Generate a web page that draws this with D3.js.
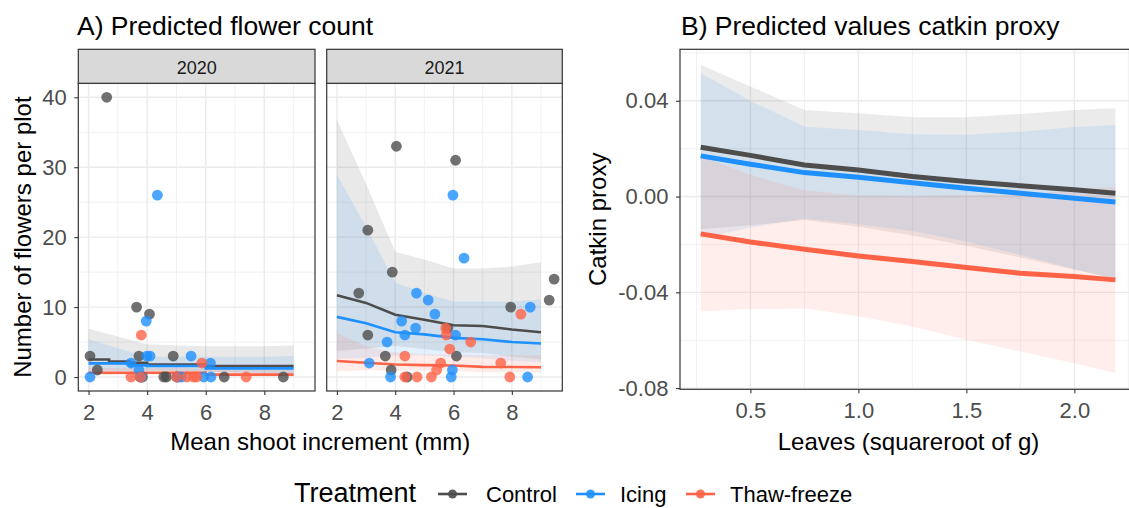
<!DOCTYPE html>
<meta charset="utf-8">
<title>Predicted flower count and catkin proxy</title>
<style>

body {
  margin: 0;
  background: #fff;
}

text {
  font-family: "Liberation Sans", Arial, sans-serif;
}

</style>
<body>
  <script src="https://d3js.org/d3.v7.min.js"></script>
  <script>

  // ---- data: panel A, points (x = mean shoot increment, y = flowers per plot) ----
  const years = ["2020", "2021"];
  const treatments = ["Control", "Icing", "Thaw-freeze"];
  const colors = ["#4D4D4D", "#1E90FF", "#FF6347"];

  const pts2020ControlX = [2.62, 3.64, 4.08, 2.05, 2.3, 3.72, 4.89, 3.76, 3.84, 4.57, 4.66, 5.02, 6.63, 8.65];
  const pts2020ControlY = [40, 10, 9, 3, 1, 3, 3, 0, 0, 0, 0, 0, 0, 0];
  const pts2020IcingX = [4.35, 3.97, 2.05, 3.45, 3.99, 4.1, 5.5, 6.16, 3.72, 3.8, 5.06, 5.93, 6.18, 5.18];
  const pts2020IcingY = [26, 8, 0, 2, 3, 3, 3, 2, 1, 0, 0, 0, 0, 0];
  const pts2020ThawX = [3.8, 3.45, 3.78, 5.0, 5.35, 5.58, 5.69, 5.87, 7.38];
  const pts2020ThawY = [6, 0, 0, 0, 0, 0, 0, 2, 0];

  const pts2021ControlX = [4.04, 6.07, 3.06, 3.9, 2.75, 9.45, 9.28, 7.96, 3.06, 5.8, 3.66, 6.1, 3.86, 4.41];
  const pts2021ControlY = [33, 31, 21, 15, 12, 14, 11, 10, 6, 7, 3, 3, 1, 0];
  const pts2021IcingX = [5.98, 6.36, 4.73, 5.13, 5.36, 8.63, 4.22, 4.7, 4.33, 6.07, 3.72, 3.11, 5.96, 3.84, 5.92, 8.54];
  const pts2021IcingY = [26, 17, 12, 11, 9, 10, 8, 7, 6, 6, 5, 2, 1, 0, 0, 0];
  const pts2021ThawX = [8.31, 6.59, 5.73, 5.75, 5.87, 4.33, 5.56, 5.42, 7.62, 4.33, 4.75, 5.24, 7.93];
  const pts2021ThawY = [9, 5, 7, 6, 4, 3, 2, 1, 2, 0, 0, 0, 0];

  // ---- data: panel A, predictions ----
  const fit2020X = [2, 2.7, 3.4, 4, 6, 9];           // step line
  const fit2020Control = [2.5, 2.2, 2.05, 1.8, 1.57, 1.57];
  const fit2020Icing = [1.95, 1.95, 1.67, 1.57, 1.24, 1.24];
  const fit2020Thaw = [0.62, 0.62, 0.62, 0.62, 0.34, 0.34];

  const band2020X = [2, 3, 4, 5, 6, 7, 8, 9];
  const band2020ControlHi = [6.9, 5.8, 4.7, 4.5, 4.4, 4.4, 4.4, 4.5];
  const band2020ControlLo = [0.9, 0.9, 0.85, 0.75, 0.7, 0.6, 0.55, 0.5];
  const band2020IcingHi = [5.4, 4.1, 2.9, 2.9, 2.9, 2.9, 2.9, 3.0];
  const band2020IcingLo = [0.7, 0.8, 0.95, 0.9, 0.8, 0.65, 0.6, 0.5];
  const band2020ThawHi = [1.3, 1.3, 1.3, 1.3, 1.2, 1.0, 1.0, 1.0];
  const band2020ThawLo = [0.3, 0.3, 0.28, 0.28, 0.25, 0.13, 0.12, 0.12];

  const fit2021X = [2, 3, 4, 5, 6, 7, 8, 9];
  const fit2021Control = [11.7, 10.6, 8.9, 8.2, 7.4, 7.3, 6.8, 6.4];
  const fit2021Icing = [8.6, 7.7, 6.4, 6.1, 5.6, 5.4, 5.0, 4.8];
  const fit2021Thaw = [2.3, 2.05, 1.8, 1.7, 1.65, 1.45, 1.43, 1.4];
  const band2021ControlHi = [36.8, 27.6, 17.9, 16.8, 15.5, 15.5, 15.8, 16.4];
  const band2021ControlLo = [3.72, 4.07, 4.42, 4.0, 3.53, 3.44, 2.93, 2.5];
  const band2021IcingHi = [28.9, 21.5, 13.5, 12.0, 10.8, 10.8, 10.8, 11.1];
  const band2021IcingLo = [2.56, 2.76, 3.03, 3.1, 2.9, 2.7, 2.31, 2.08];
  const band2021ThawHi = [6.3, 4.4, 3.5, 3.3, 3.2, 3.1, 3.1, 3.1];
  const band2021ThawLo = [0.84, 0.96, 0.93, 0.88, 0.85, 0.68, 0.66, 0.63];

  // ---- data: panel B, catkin proxy vs leaves ----
  const leavesX = [0.27, 0.5, 0.75, 1.0, 1.25, 1.5, 1.75, 2.0, 2.19];
  const catkinControl = [0.0206, 0.0172, 0.0132, 0.0111, 0.0084, 0.0063, 0.0045, 0.0028, 0.0014];
  const catkinControlHi = [0.0549, 0.046, 0.0362, 0.0348, 0.0331, 0.0331, 0.0345, 0.0362, 0.0369];
  const catkinControlLo = [-0.0137, -0.012, -0.0098, -0.0126, -0.0163, -0.0205, -0.0255, -0.0306, -0.0341];
  const catkinIcing = [0.017, 0.0135, 0.01, 0.0081, 0.0058, 0.0035, 0.0014, -0.0007, -0.0023];
  const catkinIcingHi = [0.0515, 0.04, 0.0292, 0.0278, 0.026, 0.0258, 0.0271, 0.029, 0.0299];
  const catkinIcingLo = [-0.0175, -0.013, -0.0092, -0.0116, -0.0144, -0.0188, -0.0243, -0.0304, -0.0345];
  const catkinThaw = [-0.0156, -0.019, -0.022, -0.0248, -0.0271, -0.0296, -0.032, -0.0334, -0.0348];
  const catkinThawHi = [0.0168, 0.009, 0.0026, 0.0004, 0.0001, 0.0006, 0.0007, 0.0028, 0.0041];
  const catkinThawLo = [-0.048, -0.047, -0.0466, -0.05, -0.0543, -0.0598, -0.0647, -0.0696, -0.0737];

  const aYTicks = [0, 10, 20, 30, 40];
  const aXTicks = [2, 4, 6, 8];
  const bYTicks = [-0.08, -0.04, 0, 0.04];
  const bXTicks = [0.5, 1.0, 1.5, 2.0];

  // ---- tables built from the arrays ----
  const zip = (xs, ys) => xs.map((x, i) => ({x: x, y: ys[i]}));
  const zipBand = (xs, lo, hi) => xs.map((x, i) => ({x: x, lo: lo[i], hi: hi[i]}));

  const facets = [
    {
      year: years[0], x0: 78.3, x1: 315, step: true,
      points: [zip(pts2020ControlX, pts2020ControlY), zip(pts2020IcingX, pts2020IcingY), zip(pts2020ThawX, pts2020ThawY)],
      fits: [zip(fit2020X, fit2020Control), zip(fit2020X, fit2020Icing), zip(fit2020X, fit2020Thaw)],
      bands: [zipBand(band2020X, band2020ControlLo, band2020ControlHi), zipBand(band2020X, band2020IcingLo, band2020IcingHi), zipBand(band2020X, band2020ThawLo, band2020ThawHi)]
    },
    {
      year: years[1], x0: 326.7, x1: 562.3, step: false,
      points: [zip(pts2021ControlX, pts2021ControlY), zip(pts2021IcingX, pts2021IcingY), zip(pts2021ThawX, pts2021ThawY)],
      fits: [zip(fit2021X, fit2021Control), zip(fit2021X, fit2021Icing), zip(fit2021X, fit2021Thaw)],
      bands: [zipBand(fit2021X, band2021ControlLo, band2021ControlHi), zipBand(fit2021X, band2021IcingLo, band2021IcingHi), zipBand(fit2021X, band2021ThawLo, band2021ThawHi)]
    }
  ];

  const svg = d3.select("body").append("svg")
      .attr("width", 1129)
      .attr("height", 508);

  const fontTick = 22, fontAxisTitle = 24, fontTitle = 26.5;

  // gridlines for one panel
  const drawGrid = (g, x, y, xMajor, xMinor, yMajor, yMinor, x0, x1, y0, y1) => {
    g.selectAll(".minx").data(xMinor).enter().append("line")
        .attr("x1", x).attr("x2", x).attr("y1", y0).attr("y2", y1)
        .attr("stroke", "#EBEBEB").attr("stroke-width", 0.7);
    g.selectAll(".miny").data(yMinor).enter().append("line")
        .attr("y1", y).attr("y2", y).attr("x1", x0).attr("x2", x1)
        .attr("stroke", "#EBEBEB").attr("stroke-width", 0.7);
    g.selectAll(".majx").data(xMajor).enter().append("line")
        .attr("x1", x).attr("x2", x).attr("y1", y0).attr("y2", y1)
        .attr("stroke", "#EBEBEB").attr("stroke-width", 1.4);
    g.selectAll(".majy").data(yMajor).enter().append("line")
        .attr("y1", y).attr("y2", y).attr("x1", x0).attr("x2", x1)
        .attr("stroke", "#EBEBEB").attr("stroke-width", 1.4);
  };

  const styleAxis = sel => {
    sel.select(".domain").remove();
    sel.selectAll(".tick line").attr("stroke", "#333333").attr("stroke-width", 1.1);
    sel.selectAll(".tick text")
        .attr("fill", "#4D4D4D")
        .style("font-size", fontTick + "px")
        .style("font-family", "'Liberation Sans', Arial, sans-serif");
  };

  // ================= Panel A =================
  const aTop = 83.3, aBottom = 391, stripTop = 49.3;
  const yA = d3.scaleLinear().domain([-2, 42]).range([aBottom, aTop]);

  facets.forEach((f, fi) => {
    const x = d3.scaleLinear().domain([1.65, 9.73]).range([f.x0, f.x1]);
    const g = svg.append("g");

    drawGrid(g, x, yA, aXTicks, [3, 5, 7, 9], aYTicks, [5, 15, 25, 35], f.x0, f.x1, aTop, aBottom);

    // confidence bands
    f.bands.forEach((b, i) => {
      g.append("path")
          .datum(b)
          .attr("fill", colors[i])
          .attr("fill-opacity", 0.12)
          .attr("d", d3.area().x(d => x(d.x)).y0(d => yA(d.lo)).y1(d => yA(d.hi)));
    });

    // fitted lines
    const line = d3.line().x(d => x(d.x)).y(d => yA(d.y));
    if (f.step) line.curve(d3.curveStepAfter);
    f.fits.forEach((fit, i) => {
      g.append("path")
          .datum(fit)
          .attr("fill", "none")
          .attr("stroke", colors[i])
          .attr("stroke-width", 2.6)
          .attr("d", line);
    });

    // observed points
    f.points.forEach((p, i) => {
      g.selectAll(".pt" + i).data(p).enter().append("circle")
          .attr("cx", d => x(d.x))
          .attr("cy", d => yA(d.y))
          .attr("r", 5.4)
          .attr("fill", colors[i])
          .attr("fill-opacity", 0.8);
    });

    g.append("rect")
        .attr("x", f.x0).attr("y", aTop).attr("width", f.x1 - f.x0).attr("height", aBottom - aTop)
        .attr("fill", "none").attr("stroke", "#333333").attr("stroke-width", 1.2);

    // strip
    g.append("rect")
        .attr("x", f.x0).attr("y", stripTop).attr("width", f.x1 - f.x0).attr("height", aTop - stripTop)
        .attr("fill", "#D9D9D9").attr("stroke", "#333333").attr("stroke-width", 1.2);
    g.append("text")
        .attr("x", (f.x0 + f.x1) / 2).attr("y", 74)
        .attr("text-anchor", "middle")
        .attr("fill", "#1A1A1A")
        .style("font-size", "18px")
        .text(f.year);

    g.append("g")
        .attr("transform", "translate(0," + aBottom + ")")
        .call(d3.axisBottom(x).tickValues(aXTicks).tickSize(4).tickPadding(9.4).tickFormat(d3.format("d")))
        .call(styleAxis);

    if (fi === 0) {
      g.append("g")
          .attr("transform", "translate(" + f.x0 + ",0)")
          .call(d3.axisLeft(yA).tickValues(aYTicks).tickSize(4).tickPadding(7.6))
          .call(styleAxis);
    }
  });

  svg.append("text")
      .attr("x", 77).attr("y", 35)
      .style("font-size", fontTitle + "px")
      .text("A) Predicted flower count");

  svg.append("text")
      .attr("x", (78.3 + 562.3) / 2).attr("y", 450)
      .attr("text-anchor", "middle")
      .style("font-size", fontAxisTitle + "px")
      .text("Mean shoot increment (mm)");

  svg.append("text")
      .attr("transform", "translate(31," + (aTop + aBottom) / 2 + ")rotate(-90)")
      .attr("text-anchor", "middle")
      .style("font-size", fontAxisTitle + "px")
      .text("Number of flowers per plot");

  // ================= Panel B =================
  const bx0 = 680, bx1 = 1137, bTop = 49.3, bBottom = 389.3;
  const xB = d3.scaleLinear().domain([0.174, 2.29]).range([bx0, bx1]);
  const yB = d3.scaleLinear().domain([-0.0805, 0.0615]).range([bBottom, bTop]);

  const gB = svg.append("g");
  drawGrid(gB, xB, yB, bXTicks, [0.25, 0.75, 1.25, 1.75, 2.25], bYTicks, [-0.06, -0.02, 0.02, 0.06], bx0, bx1, bTop, bBottom);

  const catkinBands = [
    zipBand(leavesX, catkinControlLo, catkinControlHi),
    zipBand(leavesX, catkinIcingLo, catkinIcingHi),
    zipBand(leavesX, catkinThawLo, catkinThawHi)
  ];
  const catkinFits = [zip(leavesX, catkinControl), zip(leavesX, catkinIcing), zip(leavesX, catkinThaw)];

  catkinBands.forEach((b, i) => {
    gB.append("path")
        .datum(b)
        .attr("fill", colors[i])
        .attr("fill-opacity", 0.11)
        .attr("d", d3.area().x(d => xB(d.x)).y0(d => yB(d.lo)).y1(d => yB(d.hi)));
  });

  catkinFits.forEach((fit, i) => {
    gB.append("path")
        .datum(fit)
        .attr("fill", "none")
        .attr("stroke", colors[i])
        .attr("stroke-width", 5)
        .attr("d", d3.line().x(d => xB(d.x)).y(d => yB(d.y)));
  });

  gB.append("rect")
      .attr("x", bx0).attr("y", bTop).attr("width", bx1 - bx0).attr("height", bBottom - bTop)
      .attr("fill", "none").attr("stroke", "#333333").attr("stroke-width", 1.2);

  gB.append("g")
      .attr("transform", "translate(0," + bBottom + ")")
      .call(d3.axisBottom(xB).tickValues(bXTicks).tickSize(4).tickPadding(9.4).tickFormat(d => d.toFixed(1)))
      .call(styleAxis);

  gB.append("g")
      .attr("transform", "translate(" + bx0 + ",0)")
      .call(d3.axisLeft(yB).tickValues(bYTicks).tickSize(4).tickPadding(7.6).tickFormat(d => d.toFixed(2)))
      .call(styleAxis);

  svg.append("text")
      .attr("x", 681).attr("y", 35)
      .style("font-size", fontTitle + "px")
      .text("B) Predicted values catkin proxy");

  svg.append("text")
      .attr("x", (bx0 + bx1) / 2).attr("y", 450)
      .attr("text-anchor", "middle")
      .style("font-size", fontAxisTitle + "px")
      .text("Leaves (squareroot of g)");

  svg.append("text")
      .attr("transform", "translate(606," + (bTop + bBottom) / 2 + ")rotate(-90)")
      .attr("text-anchor", "middle")
      .style("font-size", fontAxisTitle + "px")
      .text("Catkin proxy");

  // ================= Legend =================
  const legend = svg.append("g");
  legend.append("text")
      .attr("x", 294).attr("y", 501.5)
      .style("font-size", "27px")
      .text("Treatment");

  const keyX = [438, 576, 686];
  const labelX = [486, 620, 730];
  treatments.forEach((t, i) => {
    legend.append("line")
        .attr("x1", keyX[i]).attr("x2", keyX[i] + 29)
        .attr("y1", 494).attr("y2", 494)
        .attr("stroke", colors[i]).attr("stroke-width", 2.6);
    legend.append("circle")
        .attr("cx", keyX[i] + 14.5).attr("cy", 494).attr("r", 4.5)
        .attr("fill", colors[i]).attr("fill-opacity", 0.9);
    legend.append("text")
        .attr("x", labelX[i]).attr("y", 502)
        .style("font-size", "22px")
        .text(t);
  });

  </script>
</body>
